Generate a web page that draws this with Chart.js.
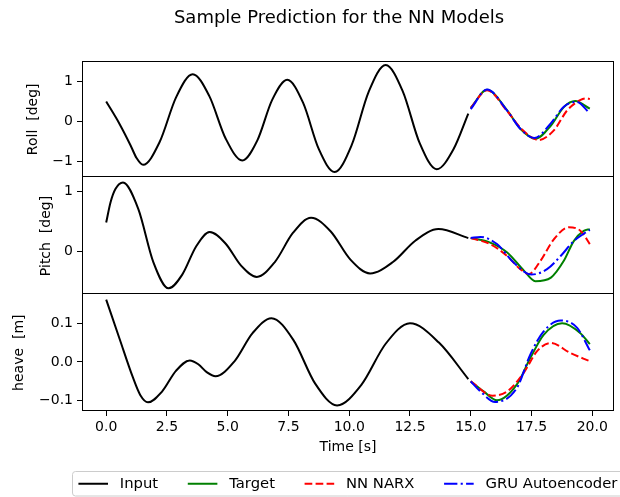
<!DOCTYPE html>
<html>
<head>
<meta charset="utf-8">
<script src="https://cdn.jsdelivr.net/npm/chart.js@4.4.1/dist/chart.umd.min.js"></script>
<style>
  html, body { margin: 0; padding: 0; background: #fff; }
  #wrap { width: 620px; height: 497px; overflow: hidden; }
</style>
</head>
<body>
<div id="wrap"><canvas id="chart" width="620" height="497"></canvas></div>
<script>
const FONT = '"DejaVu Sans", sans-serif';

// tick positions
const timeTicks = [0, 2.5, 5, 7.5, 10, 12.5, 15, 17.5, 20];
const rollTicks = [-1, 0, 1];
const pitchTicks = [0, 1];
const heaveTicks = [-0.1, 0, 0.1];

// roll [deg]  -- [time, value]
const rollInput = [[0, 0.49], [0.55, -0.07], [1.0, -0.6], [1.25, -0.92], [1.52, -1.09],
  [2.2, -0.52], [2.88, 0.6], [3.56, 1.17], [4.24, 0.63], [4.92, -0.44], [5.6, -0.98],
  [6.22, -0.48], [6.83, 0.53], [7.45, 1.03], [8.1, 0.46], [8.75, -0.7], [9.4, -1.27],
  [10.1, -0.6], [10.8, 0.73], [11.5, 1.4], [12.2, 0.75], [12.9, -0.55], [13.6, -1.2],
  [14.29, -0.7], [14.9, 0.19]];
const rollTarget = [[15.0, 0.33], [15.67, 0.78], [16.5, 0.27], [17.04, -0.19], [17.66, -0.44],
  [18.3, -0.11], [18.83, 0.35], [19.3, 0.5], [19.9, 0.31]];
const rollNarx = [[15.0, 0.33], [15.67, 0.77], [16.5, 0.25], [17.1, -0.2], [17.8, -0.47],
  [18.42, -0.23], [18.97, 0.27], [19.52, 0.53], [19.75, 0.57], [19.9, 0.55]];
const rollGru = [[15.0, 0.3], [15.67, 0.79], [16.5, 0.26], [17.04, -0.19], [17.62, -0.42],
  [18.3, -0.05], [18.83, 0.36], [19.35, 0.48], [19.9, 0.2]];

// pitch [deg]
const pitchInput = [[0, 0.48], [0.18, 0.82], [0.38, 1.04], [0.69, 1.15], [1.32, 0.71],
  [1.94, -0.18], [2.57, -0.62], [3.13, -0.39], [3.7, 0.08], [4.26, 0.32], [4.91, 0.13],
  [5.55, -0.24], [6.2, -0.43], [6.94, -0.18], [7.69, 0.31], [8.43, 0.56], [9.24, 0.33],
  [10.05, -0.14], [10.86, -0.37], [11.8, -0.18], [12.73, 0.18], [13.67, 0.37], [14.9, 0.22]];
const pitchTarget = [[15.0, 0.22], [15.8, 0.145], [16.5, -0.02], [17.18, -0.32], [17.66, -0.5],
  [18.3, -0.44], [18.83, -0.16], [19.24, 0.17], [19.65, 0.34], [19.9, 0.37]];
const pitchNarx = [[15.0, 0.22], [15.8, 0.12], [16.5, -0.08], [17.04, -0.3], [17.39, -0.38],
  [17.87, -0.16], [18.42, 0.2], [19.03, 0.4], [19.52, 0.34], [19.9, 0.12]];
const pitchGru = [[15.0, 0.22], [15.4, 0.24], [16.08, 0.12], [16.77, -0.19], [17.5, -0.39],
  [18.14, -0.3], [18.7, -0.08], [19.24, 0.17], [19.9, 0.36]];

// heave [m]
const heaveInput = [[0, 0.161], [0.55, 0.06], [1.1, -0.04], [1.4, -0.085], [1.72, -0.104],
  [2.29, -0.077], [2.87, -0.023], [3.44, 0.004], [3.79, -0.006], [4.15, -0.027], [4.5, -0.037],
  [5.27, 0.001], [6.03, 0.075], [6.8, 0.113], [7.7, 0.057], [8.6, -0.056], [9.5, -0.112],
  [10.5, -0.059], [11.5, 0.047], [12.5, 0.1], [13.69, 0.05], [14.9, -0.044]];
const heaveTarget = [[15.0, -0.05], [15.53, -0.076], [16.08, -0.099], [16.9, -0.058], [17.45, 0.01],
  [18.0, 0.07], [18.76, 0.1], [19.5, 0.075], [19.9, 0.046]];
const heaveNarx = [[15.0, -0.05], [15.9, -0.087], [16.5, -0.076], [17.18, -0.028], [17.73, 0.028],
  [18.3, 0.049], [19.1, 0.023], [19.9, 0.002]];
const heaveGru = [[15.0, -0.05], [15.4, -0.076], [16.0, -0.103], [16.9, -0.067], [17.45, 0.019],
  [18.0, 0.079], [18.7, 0.107], [19.38, 0.088], [19.9, 0.03]];

const seriesNames = ['Input', 'Target', 'NN NARX', 'GRU Autoencoder'];
const seriesColors = ['#000000', '#008000', '#ff0000', '#0000ff'];
const seriesDash = [[], [], [7.7, 3.3], [13.3, 3.3, 2.1, 3.3]];

const minus = s => s.replace('-', '\u2212');

const panels = [
  {id: 'yRoll', title: 'Roll  [deg]', titlePad: 25, min: -1.41, max: 1.50, ticks: rollTicks, digits: 0, weight: 3,
    series: [rollInput, rollTarget, rollNarx, rollGru]},
  {id: 'yPitch', title: 'Pitch  [deg]', titlePad: 38, min: -0.72, max: 1.23, ticks: pitchTicks, digits: 0, weight: 2,
    series: [pitchInput, pitchTarget, pitchNarx, pitchGru]},
  {id: 'yHeave', title: 'heave  [m]', titlePad: 11, min: -0.1265, max: 0.1745, ticks: heaveTicks, digits: 1, weight: 1,
    series: [heaveInput, heaveTarget, heaveNarx, heaveGru]}
];

const datasets = [];
panels.forEach(p => p.series.forEach((pts, i) => datasets.push({
  label: seriesNames[i],
  data: pts.map(([x, y]) => ({x, y})),
  yAxisID: p.id,
  borderColor: seriesColors[i],
  borderDash: seriesDash[i],
  borderWidth: 2,
  pointRadius: 0,
  fill: false,
  cubicInterpolationMode: 'monotone',
  order: 3 - i
})));

const tickGrid = {display: true, drawOnChartArea: false, drawTicks: true, tickLength: 5, color: '#000'};

const scales = {
  x: {
    type: 'linear', min: -0.995, max: 20.895,
    afterBuildTicks: s => { s.ticks = timeTicks.map(v => ({value: v})); },
    afterFit: s => { s.height = 45; },
    grid: tickGrid,
    border: {display: false},
    ticks: {color: '#000', font: {family: FONT, size: 14}, padding: 3, maxRotation: 0, autoSkip: false,
      callback: v => v.toFixed(1)},
    title: {display: true, text: 'Time [s]', color: '#000', font: {family: FONT, size: 14}, padding: 0}
  }
};
panels.forEach(p => {
  scales[p.id] = {
    type: 'linear', position: 'left', stack: 'panels', stackWeight: 1, weight: p.weight,
    min: p.min, max: p.max,
    afterBuildTicks: s => { s.ticks = p.ticks.map(v => ({value: v})); },
    afterFit: s => { s.width = 82; },
    grid: tickGrid,
    border: {display: false},
    ticks: {color: '#000', font: {family: FONT, size: 14}, padding: 4,
      callback: v => minus(v.toFixed(p.digits))},
    title: {display: true, text: p.title, color: '#000', font: {family: FONT, size: 14},
      padding: {top: p.titlePad, bottom: 0}}
  };
});

// panel frames, figure title and the boxed legend under the axes
const decorations = {
  id: 'decorations',
  afterDraw(chart) {
    const {ctx, chartArea: a, scales: sc} = chart;
    ctx.save();
    ctx.strokeStyle = '#000';
    ctx.lineWidth = 1;
    ctx.setLineDash([]);
    const rows = [a.top + 0.5, Math.floor(sc.yRoll.bottom) - 0.5,
      Math.floor(sc.yPitch.bottom) - 0.5, Math.floor(a.bottom) - 0.5];
    ctx.beginPath();
    rows.forEach(y => { ctx.moveTo(a.left, y); ctx.lineTo(a.right, y); });
    ctx.moveTo(a.left + 0.5, a.top); ctx.lineTo(a.left + 0.5, a.bottom);
    ctx.moveTo(a.right - 0.5, a.top); ctx.lineTo(a.right - 0.5, a.bottom);
    ctx.stroke();

    ctx.fillStyle = '#000';
    ctx.font = '18px ' + FONT;
    ctx.textAlign = 'center';
    ctx.textBaseline = 'middle';
    ctx.fillText('Sample Prediction for the NN Models', 339, 18);

    const fs = 14.8;
    ctx.font = fs + 'px ' + FONT;
    const widths = seriesNames.map(t => ctx.measureText(t).width);
    const handle = 2 * fs, gap = 0.8 * fs, colsp = 2 * fs, pad = 0.4 * fs;
    const inner = widths.reduce((s, w) => s + handle + gap + w, 0) + colsp * (seriesNames.length - 1);
    const cx = (a.left + a.right) / 2;
    const left = Math.round(cx - inner / 2 - pad) - 0.5, top = 471.5, h = 24.5, w = inner + 2 * pad;
    ctx.beginPath();
    ctx.roundRect(left, top, w, h, 3);
    ctx.fillStyle = 'rgba(255,255,255,0.8)';
    ctx.fill();
    ctx.strokeStyle = '#cccccc';
    ctx.stroke();
    let x = left + pad;
    const cy = top + h / 2;
    seriesNames.forEach((name, i) => {
      ctx.beginPath();
      ctx.setLineDash(seriesDash[i]);
      ctx.strokeStyle = seriesColors[i];
      ctx.lineWidth = 2;
      ctx.moveTo(x, cy);
      ctx.lineTo(x + handle, cy);
      ctx.stroke();
      ctx.setLineDash([]);
      ctx.fillStyle = '#000';
      ctx.textAlign = 'left';
      ctx.textBaseline = 'middle';
      ctx.fillText(name, x + handle + gap, cy);
      x += handle + gap + widths[i] + colsp;
    });
    ctx.restore();
  }
};

new Chart(document.getElementById('chart'), {
  type: 'line',
  data: {datasets},
  options: {
    responsive: false,
    animation: false,
    layout: {padding: {left: 0, right: 6, top: 61, bottom: 41}},
    scales,
    plugins: {
      legend: {display: false},
      title: {display: false},
      tooltip: {enabled: false}
    }
  },
  plugins: [decorations]
});
</script>
</body>
</html>
